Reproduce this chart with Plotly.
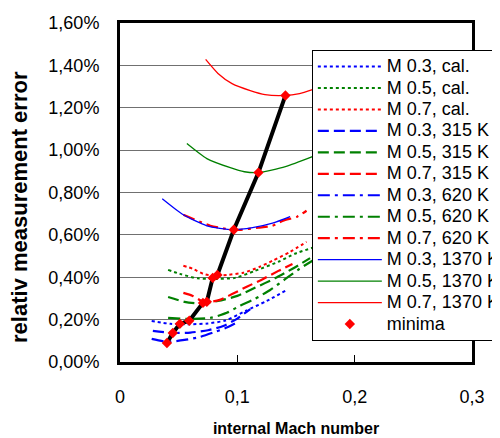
import plotly.graph_objects as go

# ---------------- data (x: internal Mach number, y: relative error in %) -------------
m03_cal_x = [0.027, 0.043, 0.060, 0.075, 0.090, 0.107, 0.125, 0.141]
m03_cal_y = [0.194, 0.180, 0.178, 0.182, 0.196, 0.241, 0.288, 0.336]
m05_cal_x = [0.041, 0.051, 0.066, 0.081, 0.098, 0.115, 0.135, 0.149, 0.164]
m05_cal_y = [0.435, 0.416, 0.395, 0.392, 0.397, 0.430, 0.473, 0.511, 0.539]
m07_cal_x = [0.054, 0.062, 0.071, 0.079, 0.091, 0.105, 0.119, 0.130, 0.145, 0.159]
m07_cal_y = [0.454, 0.440, 0.416, 0.407, 0.411, 0.421, 0.449, 0.478, 0.520, 0.567]

m03_315_x = [0.028, 0.045, 0.060, 0.075, 0.088, 0.100, 0.111]
m03_315_y = [0.147, 0.137, 0.139, 0.150, 0.170, 0.205, 0.250]
m05_315_x = [0.041, 0.055, 0.068, 0.0835, 0.100, 0.115, 0.132, 0.147, 0.162]
m05_315_y = [0.307, 0.284, 0.276, 0.288, 0.312, 0.350, 0.395, 0.440, 0.490]
m07_315_x = [0.054, 0.062, 0.072, 0.085, 0.096, 0.108, 0.122, 0.135, 0.147]
m07_315_y = [0.326, 0.312, 0.282, 0.293, 0.322, 0.355, 0.392, 0.430, 0.463]

m03_620_x = [0.027, 0.040, 0.055, 0.068, 0.081, 0.092, 0.102]
m03_620_y = [0.109, 0.095, 0.104, 0.118, 0.142, 0.165, 0.194]
m05_620_x = [0.041, 0.060, 0.077, 0.091, 0.102, 0.115, 0.128, 0.141, 0.153, 0.164]
m05_620_y = [0.208, 0.203, 0.208, 0.232, 0.265, 0.298, 0.340, 0.392, 0.440, 0.478]
m07_620_x = [0.054, 0.077, 0.090, 0.102, 0.118, 0.130, 0.139, 0.151, 0.159]
m07_620_y = [0.695, 0.643, 0.629, 0.624, 0.634, 0.643, 0.667, 0.686, 0.714]

m03_1370_x = [0.036, 0.054, 0.074, 0.096, 0.113, 0.130, 0.145]
m03_1370_y = [0.771, 0.695, 0.643, 0.624, 0.634, 0.655, 0.686]
m05_1370_x = [0.057, 0.074, 0.094, 0.106, 0.118, 0.141, 0.164]
m05_1370_y = [1.031, 0.960, 0.917, 0.898, 0.894, 0.922, 0.969]
m07_1370_x = [0.073, 0.0835, 0.0955, 0.111, 0.1236, 0.140, 0.153, 0.164]
m07_1370_y = [1.428, 1.362, 1.314, 1.281, 1.262, 1.258, 1.267, 1.286]

minima_x = [0.040, 0.045, 0.051, 0.059, 0.0707, 0.074, 0.079, 0.083, 0.097, 0.118, 0.141]
minima_y = [0.090, 0.137, 0.180, 0.195, 0.279, 0.284, 0.397, 0.411, 0.624, 0.894, 1.258]

x_ticks = [0, 0.1, 0.2, 0.3]
x_labels = ["0", "0,1", "0,2", "0,3"]
y_ticks = [0, 0.2, 0.4, 0.6, 0.8, 1.0, 1.2, 1.4, 1.6]
y_labels = ["0,00%", "0,20%", "0,40%", "0,60%", "0,80%", "1,00%", "1,20%", "1,40%", "1,60%"]

BLUE, GREEN, RED = "#0000FF", "#008000", "#FF0000"
DOT = "3px,3px"
DASH = "11px,5px"
DASHDOT = "12px,5px,3px,5px"

series = [
    ("M 0.3, cal.", m03_cal_x, m03_cal_y, BLUE, DOT, 2),
    ("M 0.5, cal.", m05_cal_x, m05_cal_y, GREEN, DOT, 2),
    ("M 0.7, cal.", m07_cal_x, m07_cal_y, RED, DOT, 2),
    ("M 0.3, 315 K", m03_315_x, m03_315_y, BLUE, DASH, 2.2),
    ("M 0.5, 315 K", m05_315_x, m05_315_y, GREEN, DASH, 2.2),
    ("M 0.7, 315 K", m07_315_x, m07_315_y, RED, DASH, 2.2),
    ("M 0.3, 620 K", m03_620_x, m03_620_y, BLUE, DASHDOT, 2.2),
    ("M 0.5, 620 K", m05_620_x, m05_620_y, GREEN, DASHDOT, 2.2),
    ("M 0.7, 620 K", m07_620_x, m07_620_y, RED, DASHDOT, 2.2),
    ("M 0.3, 1370 K", m03_1370_x, m03_1370_y, BLUE, "solid", 1.3),
    ("M 0.5, 1370 K", m05_1370_x, m05_1370_y, GREEN, "solid", 1.3),
    ("M 0.7, 1370 K", m07_1370_x, m07_1370_y, RED, "solid", 1.3),
]

LEG = '<span style="font-size:18px">{}</span>'

fig = go.Figure()
for name, xs, ys, col, dash, w in series:
    fig.add_trace(go.Scatter(x=xs, y=ys, name=LEG.format(name), mode="lines",
                             line=dict(color=col, dash=dash, width=w, shape="spline", smoothing=0.6)))

# thick black line through the minima
fig.add_trace(go.Scatter(x=minima_x, y=minima_y, mode="lines", showlegend=False,
                         line=dict(color="black", width=4), hoverinfo="skip"))
fig.add_trace(go.Scatter(x=minima_x, y=minima_y, mode="markers", name=LEG.format("minima"),
                         marker=dict(symbol="diamond", color=RED, size=8)))

FONT = "Liberation Sans, Arial, sans-serif"
# page body has an 8px margin, so the figure is 8px smaller on each side
fig.update_layout(
    width=492, height=430,
    margin=dict(l=112, r=28, t=15, b=76, autoexpand=False),
    paper_bgcolor="white", plot_bgcolor="white",
    font=dict(family=FONT, size=18, color="black"),
    showlegend=True,
    legend=dict(x=0.545, y=0.921, xanchor="left", yanchor="top",
                bgcolor="white", bordercolor="black", borderwidth=1,
                font=dict(family=FONT, size=14.2, color="black"),
                itemwidth=64, tracegroupgap=0),
    xaxis=dict(range=[0, 0.3], tickvals=x_ticks, ticktext=x_labels, showgrid=False,
               zeroline=False, showline=True, linecolor="black", linewidth=3, mirror=True,
               ticks="inside", ticklen=7, tickcolor="black", tickwidth=1,
               ticklabelstandoff=16, tickfont=dict(size=18),
               title=dict(text="<b>internal Mach number</b>", font=dict(size=16), standoff=18)),
    yaxis=dict(range=[0, 1.6], tickvals=y_ticks, ticktext=y_labels,
               showgrid=True, gridcolor="#707070", gridwidth=1.2,
               zeroline=False, showline=True, linecolor="black", linewidth=3, mirror=True,
               ticks="inside", ticklen=6, tickcolor="#707070", tickwidth=1,
               ticklabelstandoff=14, tickfont=dict(size=18)),
    annotations=[dict(text="<b>relativ measurement error</b>", textangle=-90,
                      xref="paper", yref="paper", x=(19 - 120) / 352, y=(362 - 207) / 339,
                      xanchor="center", yanchor="middle", showarrow=False,
                      font=dict(family=FONT, size=22, color="black"))],
)

fig.write_html("out.html")
